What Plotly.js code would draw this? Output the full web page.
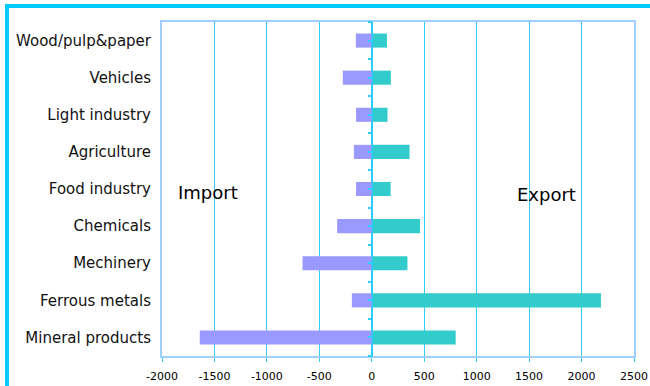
<!DOCTYPE html>
<html><head><meta charset="utf-8">
<script src="https://cdn.plot.ly/plotly-3.0.1.min.js"></script>
<style>
html,body{margin:0;padding:0;width:650px;height:386px;overflow:hidden;background:#fff;}
#chart{position:absolute;left:0;top:0;width:650px;height:386px;}
#frame{position:absolute;left:5px;top:4px;width:1000px;height:1000px;border:4px solid #00CCFF;box-sizing:border-box;pointer-events:none;}
</style></head>
<body>
<div id="chart"></div>
<div id="frame"></div>
<script>
const categories = ["Mineral products","Ferrous metals","Mechinery","Chemicals","Food industry","Agriculture","Light industry","Vehicles","Wood/pulp&paper"];
const importValues = [-1640,-190,-660,-330,-150,-170,-150,-276,-152];
const exportValues = [800,2185,340,460,180,360,150,182,145];
const xTickValues = [-2000,-1500,-1000,-500,0,500,1000,1500,2000,2500];
const xTickLabels = ["-2000","-1500","-1000","-500","0","500","1000","1500","2000","2500"];

const font = "DejaVu Sans, Verdana, sans-serif";
const traces = [
  {type:"bar", orientation:"h", y:categories, x:importValues, name:"Import",
   marker:{color:"#9999FF"}, width:0.38, hoverinfo:"x+y"},
  {type:"bar", orientation:"h", y:categories, x:exportValues, name:"Export",
   marker:{color:"#33CCCC"}, width:0.38, hoverinfo:"x+y"},
  {type:"scatter", mode:"markers", y:categories.map((c,i)=>i), x:categories.map(()=>0), yaxis:"y2",
   marker:{opacity:0, size:1}, showlegend:false, hoverinfo:"skip"}
];
const layout = {
  width:650, height:386,
  margin:{l:162, r:16, t:22, b:30},
  paper_bgcolor:"#fff", plot_bgcolor:"#fff",
  barmode:"overlay", showlegend:false,
  font:{family:font, color:"#000"},
  xaxis:{range:[-2000,2500], tickvals:xTickValues, ticktext:xTickLabels,
    showgrid:true, gridcolor:"#33CCFF", gridwidth:1,
    zeroline:false,
    showline:true, linecolor:"#A0D0FF", linewidth:2, mirror:true,
    ticks:"outside", ticklen:4, tickcolor:"#33CCFF", ticklabelstandoff:5,
    tickfont:{size:11, family:font, color:"#000"}, fixedrange:true},
  yaxis:{type:"category", categoryorder:"array", categoryarray:categories,
    range:[-0.5, 8.5], showgrid:false, zeroline:false,
    showline:true, linecolor:"#A0D0FF", linewidth:2, mirror:true,
    ticks:"", ticklabelstandoff:6,
    tickfont:{size:15, family:font, color:"#111"}, fixedrange:true},
  yaxis2:{type:"linear", range:[-0.5, 8.5], overlaying:"y", anchor:"free", position:2000/4500,
    side:"left", showticklabels:false, showgrid:false, zeroline:false,
    showline:true, linecolor:"#22CCFF", linewidth:1.5,
    ticks:"outside", tick0:-0.5, dtick:0.5, ticklen:4,
    tickcolor:"#33CCFF", tickwidth:2, fixedrange:true},
  annotations:[
    {text:"Import", xref:"paper", yref:"paper", x:0.029, y:0.49, xanchor:"left", yanchor:"middle",
     showarrow:false, font:{size:18, family:font, color:"#000"}},
    {text:"Export", xref:"paper", yref:"paper", x:0.747, y:0.484, xanchor:"left", yanchor:"middle",
     showarrow:false, font:{size:18, family:font, color:"#000"}}
  ]
};
Plotly.newPlot("chart", traces, layout, {displayModeBar:false, staticPlot:true});
</script>
</body></html>
